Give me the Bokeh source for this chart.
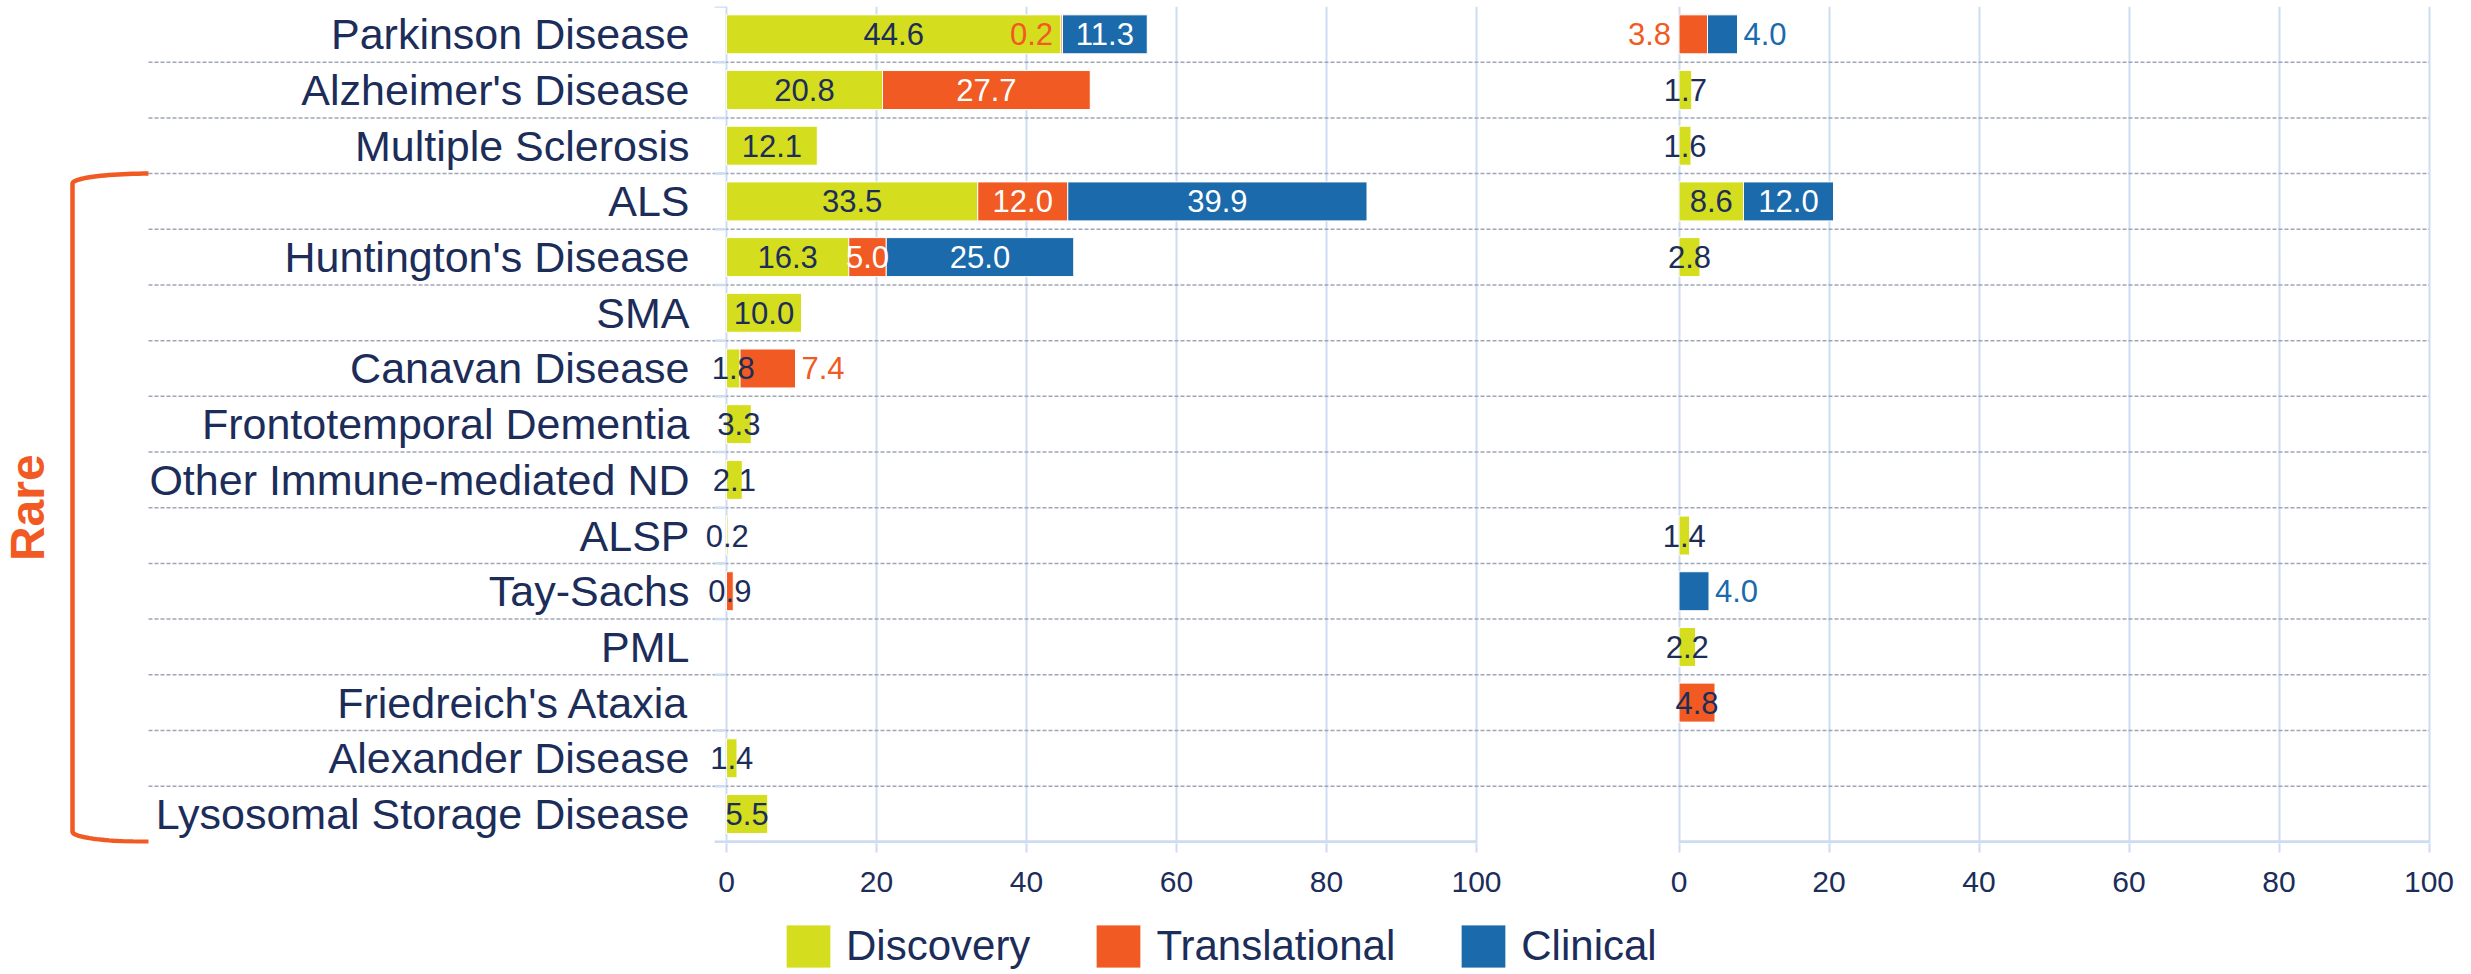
import numpy as np
from bokeh.plotting import figure
from bokeh.layouts import column
from bokeh.models import ColumnDataSource, FixedTicker, Legend, LegendItem, Range1d
from bokeh.core.properties import value
from bokeh.embed import file_html
from bokeh.resources import INLINE

# ---------------- data ----------------
categories = [
    "Parkinson Disease", "Alzheimer's Disease", "Multiple Sclerosis", "ALS",
    "Huntington's Disease", "SMA", "Canavan Disease", "Frontotemporal Dementia",
    "Other Immune-mediated ND", "ALSP", "Tay-Sachs", "PML",
    "Friedreich's Ataxia", "Alexander Disease", "Lysosomal Storage Disease",
]
series_names = ["Discovery", "Translational", "Clinical"]

left_discovery     = [44.6, 20.8, 12.1, 33.5, 16.3, 10.0, 1.8, 3.3, 2.1, 0.2, 0.0, 0.0, 0.0, 1.4, 5.5]
left_translational = [0.2, 27.7, 0.0, 12.0, 5.0, 0.0, 7.4, 0.0, 0.0, 0.0, 0.9, 0.0, 0.0, 0.0, 0.0]
left_clinical      = [11.3, 0.0, 0.0, 39.9, 25.0, 0.0, 0.0, 0.0, 0.0, 0.0, 0.0, 0.0, 0.0, 0.0, 0.0]

right_discovery     = [0.0, 1.7, 1.6, 8.6, 2.8, 0.0, 0.0, 0.0, 0.0, 1.4, 0.0, 2.2, 0.0, 0.0, 0.0]
right_translational = [3.8, 0.0, 0.0, 0.0, 0.0, 0.0, 0.0, 0.0, 0.0, 0.0, 0.0, 0.0, 4.8, 0.0, 0.0]
right_clinical      = [4.0, 0.0, 0.0, 12.0, 0.0, 0.0, 0.0, 0.0, 0.0, 0.0, 4.0, 0.0, 0.0, 0.0, 0.0]

axis_ticks = [0, 20, 40, 60, 80, 100]
rare_first = "ALS"
rare_label = "Rare"

# ---------------- styles ----------------
NAVY = "#1c2d5a"
colors = {"Discovery": "#d4dd1e", "Translational": "#f15a22", "Clinical": "#1b6aab"}
inside_text = {"Discovery": NAVY, "Translational": "#ffffff", "Clinical": "#ffffff"}
label_overrides = {
    ("left", "Parkinson Disease", "Translational"): ("before", "#f15a22"),
    ("left", "Canavan Disease", "Translational"): ("after", "#f15a22"),
    ("left", "Tay-Sachs", "Translational"): ("center", NAVY),
    ("right", "Parkinson Disease", "Translational"): ("before", "#f15a22"),
    ("right", "Parkinson Disease", "Clinical"): ("after", "#1b6aab"),
    ("right", "Tay-Sachs", "Clinical"): ("after", "#1b6aab"),
    ("right", "Friedreich's Ataxia", "Translational"): ("center", NAVY),
}
FONT = value("Liberation Sans")
GRID = "#cddcf1"

W = 2471
H_MAIN, H_LEG = 910, 64
PX = 7.5                 # pixels per unit
ZERO_X = 726             # figure px of left panel 0
RIGHT_OFFSET = 127       # units between panels' origins
TOP = 6
BOTTOM = H_MAIN - 843
FRAME_W = 2438

x_start = -ZERO_X / PX
x_end = x_start + FRAME_W / PX
n = len(categories)
ypos = [n - 1 - i for i in range(n)]

p = figure(width=W, height=H_MAIN, x_range=Range1d(x_start, x_end),
           y_range=Range1d(-0.53, n - 0.5),
           output_backend="svg", toolbar_location=None, y_axis_location=None,
           min_border_left=0, min_border_right=W - FRAME_W, min_border_top=TOP,
           min_border_bottom=BOTTOM)
p.outline_line_color = None
p.ygrid.visible = False

all_ticks = axis_ticks + [RIGHT_OFFSET + t for t in axis_ticks]
p.xgrid.ticker = FixedTicker(ticks=all_ticks)
p.xgrid.grid_line_color = GRID
p.xgrid.grid_line_width = 2

ax = p.xaxis[0]
ax.ticker = FixedTicker(ticks=all_ticks)
ax.major_label_overrides = {**{t: str(t) for t in axis_ticks},
                            **{RIGHT_OFFSET + t: str(t) for t in axis_ticks}}
ax.axis_line_color = None
ax.major_tick_out = 9
ax.major_tick_in = 0
ax.major_tick_line_color = GRID
ax.major_tick_line_width = 2
ax.minor_tick_line_color = None
ax.major_label_standoff = 19
ax.major_label_text_font = "Liberation Sans"
ax.major_label_text_font_size = "30px"
ax.major_label_text_color = NAVY

# bracket / label geometry (styles)
label_x = -37 / PX
bracket_right = -578 / PX
bracket_left = -654 / PX
rare_x = -699 / PX
row_tick = -12 / PX

# dashed row separators
seps = [k + 0.5 for k in range(n - 1)]
p.segment(x0=[bracket_right] * len(seps), x1=[RIGHT_OFFSET + max(axis_ticks)] * len(seps),
          y0=seps, y1=seps, line_color="#9ea5b6", line_width=1.5, line_dash="4 2")

# short row ticks on the left panel's value axis
bounds = [k - 0.5 for k in range(n + 1)]
p.segment(x0=[row_tick] * len(bounds), x1=[0] * len(bounds), y0=bounds, y1=bounds,
          line_color=GRID, line_width=2.5)

# baselines of both panels
p.segment(x0=[min(axis_ticks), RIGHT_OFFSET + min(axis_ticks)],
          x1=[max(axis_ticks), RIGHT_OFFSET + max(axis_ticks)],
          y0=[-0.5, -0.5], y1=[-0.5, -0.5], line_color=GRID, line_width=3)

# bars
panels = [("left", 0, [left_discovery, left_translational, left_clinical]),
          ("right", RIGHT_OFFSET, [right_discovery, right_translational, right_clinical])]
for pname, off, vals in panels:
    cum = np.zeros(n)
    lab = dict(x=[], y=[], text=[], color=[], align=[], xo=[])
    for sname, sv in zip(series_names, vals):
        sv = np.array(sv, dtype=float)
        idx = [i for i in range(n) if sv[i] > 0]
        src = ColumnDataSource(dict(
            y=[ypos[i] for i in idx],
            left=[off + cum[i] for i in idx],
            right=[off + cum[i] + sv[i] for i in idx]))
        p.hbar(y="y", left="left", right="right", height=0.7, source=src,
               fill_color=colors[sname], line_color="white", line_width=1)
        for i in idx:
            l0, r0 = off + cum[i], off + cum[i] + sv[i]
            mode, col = label_overrides.get((pname, categories[i], sname),
                                            ("center", inside_text[sname]))
            if mode == "center":
                lab["x"].append((l0 + r0) / 2); lab["align"].append("center"); lab["xo"].append(0)
            elif mode == "before":
                lab["x"].append(l0); lab["align"].append("right"); lab["xo"].append(-8)
            else:
                lab["x"].append(r0); lab["align"].append("left"); lab["xo"].append(6)
            lab["y"].append(ypos[i]); lab["text"].append(f"{sv[i]:.1f}"); lab["color"].append(col)
        cum = cum + sv
    p.text(x="x", y="y", text="text", source=ColumnDataSource(lab),
           text_color="color", text_align="align", x_offset="xo",
           text_baseline="middle", text_font=FONT, text_font_size="31px")

# category labels
p.text(x=[label_x] * n, y=ypos, text=categories, text_align="right",
       text_baseline="middle", text_font=FONT, text_font_size="43px", text_color=NAVY)

# "Rare" bracket: rounded "[" from the first rare row to the last
k = categories.index(rare_first)
y_top = ypos[k] + 0.5
y_bot = ypos[-1] - 0.5
rx = bracket_right - bracket_left
ry = 0.18
th1 = np.linspace(np.pi / 2, np.pi, 24)
th2 = np.linspace(np.pi, 1.5 * np.pi, 24)
bx = np.concatenate([bracket_right + rx * np.cos(th1), bracket_right + rx * np.cos(th2)])
by = np.concatenate([(y_top - ry) + ry * np.sin(th1), (y_bot + ry) + ry * np.sin(th2)])
p.line(x=bx, y=by, line_color="#f15a22", line_width=4.5)
p.text(x=[rare_x], y=[(y_top + y_bot) / 2], text=[rare_label], angle=np.pi / 2,
       text_align="center", text_baseline="middle", text_font=FONT,
       text_font_size="48px", text_font_style="bold", text_color="#f15a22")

# legend strip below the chart (swatch renderers sit outside its visible range)
pl = figure(width=W, height=H_LEG, x_range=Range1d(0, 1), y_range=Range1d(0, 1),
            output_backend="svg", toolbar_location=None,
            x_axis_location=None, y_axis_location=None,
            min_border_left=0, min_border_right=0, min_border_top=0, min_border_bottom=0)
pl.outline_line_color = None
pl.xgrid.visible = False
pl.ygrid.visible = False
items = []
for sname in series_names:
    r = pl.hbar(y=[-5], left=[0], right=[1], height=0.5,
                fill_color=colors[sname], line_color="white", line_width=1)
    items.append(LegendItem(label=sname, renderers=[r]))
legend = Legend(items=items, orientation="horizontal", location=(780, 1),
                glyph_width=56, glyph_height=54, label_standoff=10, spacing=60,
                padding=0, margin=0, border_line_color=None, background_fill_alpha=0,
                label_text_font="Liberation Sans", label_text_font_size="42px",
                label_text_color=NAVY, label_height=54)
pl.add_layout(legend)

open("out.html", "w").write(file_html(column(p, pl, spacing=0), INLINE))
